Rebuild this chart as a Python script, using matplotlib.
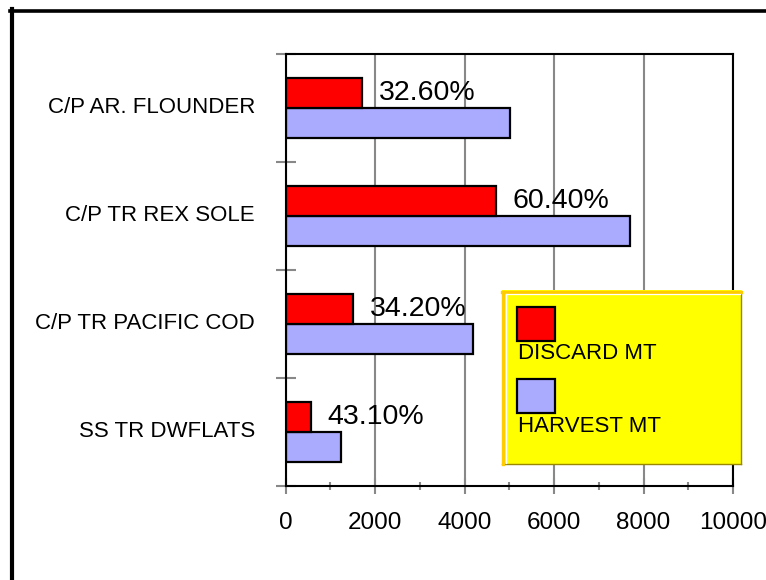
import matplotlib
matplotlib.use('Agg')
import matplotlib.pyplot as plt
import matplotlib.transforms as mtransforms
from matplotlib.patches import Rectangle
from matplotlib.lines import Line2D
import numpy as np

categories = ["C/P AR. FLOUNDER", "C/P TR REX SOLE", "C/P TR PACIFIC COD", "SS TR DWFLATS"]
discard_mt = [1700, 4700, 1500, 560]
harvest_mt = [5020, 7700, 4180, 1230]
pct_labels = ["32.60%", "60.40%", "34.20%", "43.10%"]
xticks = [0, 2000, 4000, 6000, 8000, 10000]
legend_labels = ["DISCARD MT", "HARVEST MT"]
colors = ["#FF0000", "#AAAAFF"]

plt.rcParams['font.family'] = ['Liberation Sans', 'DejaVu Sans']

W, H = 766, 580
fig = plt.figure(figsize=(W / 100, H / 100), dpi=100)
fig.patch.set_facecolor('white')


def fx(px):
    return px / W


def fy(py):
    return 1 - py / H


ax = fig.add_axes([fx(285.5), fy(486), fx(733) - fx(285.5), fy(54) - fy(486)])
y = np.arange(len(categories))
h = 0.28
ax.barh(y + h / 2, harvest_mt, height=h, color=colors[1], edgecolor='black', linewidth=1.6, zorder=3)
ax.barh(y - h / 2, discard_mt, height=h, color=colors[0], edgecolor='black', linewidth=1.6, zorder=3)
ax.set_ylim(len(categories) - 0.5, -0.5)
ax.set_xlim(0, 10000)

ax.set_yticks(y)
ax.set_yticklabels(categories, fontsize=16)
ax.tick_params(axis='y', which='major', length=0, pad=22)
shift = mtransforms.ScaledTranslation(0, 3 / 100, fig.dpi_scale_trans)
for lbl in ax.get_yticklabels():
    lbl.set_transform(lbl.get_transform() + shift)
ax.set_yticks(np.arange(len(categories) + 1) - 0.5, minor=True)
ax.tick_params(axis='y', which='minor', direction='inout', length=14, width=1.5, color='#888888')

ax.set_xticks(xticks)
ax.set_xticklabels([str(t) for t in xticks], fontsize=17.5)
ax.set_xticks(np.arange(1000, 10000, 2000), minor=True)
ax.tick_params(axis='x', which='major', direction='inout', length=11.5, width=1.5, color='#888888', pad=13)
ax.tick_params(axis='x', which='minor', direction='inout', length=6, width=1.5, color='#888888')
ax.grid(axis='x', which='major', color='#888888', linewidth=1.5, zorder=0)
ax.set_axisbelow(True)
for s in ax.spines.values():
    s.set_color('black')
    s.set_linewidth(1.5)
    s.set_zorder(4)

for yi, d, lab in zip(y, discard_mt, pct_labels):
    ax.annotate(lab, xy=(d, yi - h / 2), xytext=(17, -7), textcoords='offset pixels',
                fontsize=20.5, va='baseline', ha='left', zorder=5)

# legend (manual, squares above text)
fig.add_artist(Rectangle((fx(502), fy(464)), fx(741) - fx(502), fy(290) - fy(464),
                         transform=fig.transFigure, facecolor='#FFFF00', edgecolor='none', zorder=5))
fig.add_artist(Line2D([fx(740.5), fx(740.5)], [fy(291), fy(464)], transform=fig.transFigure,
                      color='#998800', lw=1.0, zorder=6))
fig.add_artist(Line2D([fx(502), fx(741)], [fy(463.8), fy(463.8)], transform=fig.transFigure,
                      color='#998800', lw=1.0, zorder=6))
fig.add_artist(Line2D([fx(503), fx(503)], [fy(291.5), fy(464)], transform=fig.transFigure,
                      color='#FFCC00', lw=2.4, zorder=6))
fig.add_artist(Line2D([fx(501.5), fx(741)], [fy(291.5), fy(291.5)], transform=fig.transFigure,
                      color='#FFCC00', lw=2.4, zorder=6))
fig.add_artist(Line2D([fx(505.8), fx(505.8)], [fy(294), fy(463)], transform=fig.transFigure,
                      color='white', lw=0.9, zorder=6))
fig.add_artist(Line2D([fx(505.8), fx(739.5)], [fy(294), fy(294)], transform=fig.transFigure,
                      color='white', lw=0.9, zorder=6))

sq_tops = [307, 379]
text_base = [359, 432]
for c, lab, t, b in zip(colors, legend_labels, sq_tops, text_base):
    fig.add_artist(Rectangle((fx(517), fy(t + 34)), fx(555) - fx(517), fy(t) - fy(t + 34),
                             transform=fig.transFigure, facecolor=c, edgecolor='black', lw=1.6, zorder=7))
    fig.text(fx(517.5), fy(b), lab, fontsize=16, ha='left', va='baseline', zorder=7)

# outer frame (left and top visible)
fig.add_artist(Line2D([fx(12), fx(12)], [fy(9), fy(580)], transform=fig.transFigure,
                      color='black', lw=3.0, zorder=8))
fig.add_artist(Line2D([fx(10), fx(766)], [fy(10.8), fy(10.8)], transform=fig.transFigure,
                      color='black', lw=2.6, zorder=8))

fig.savefig('out.png', dpi=100)
